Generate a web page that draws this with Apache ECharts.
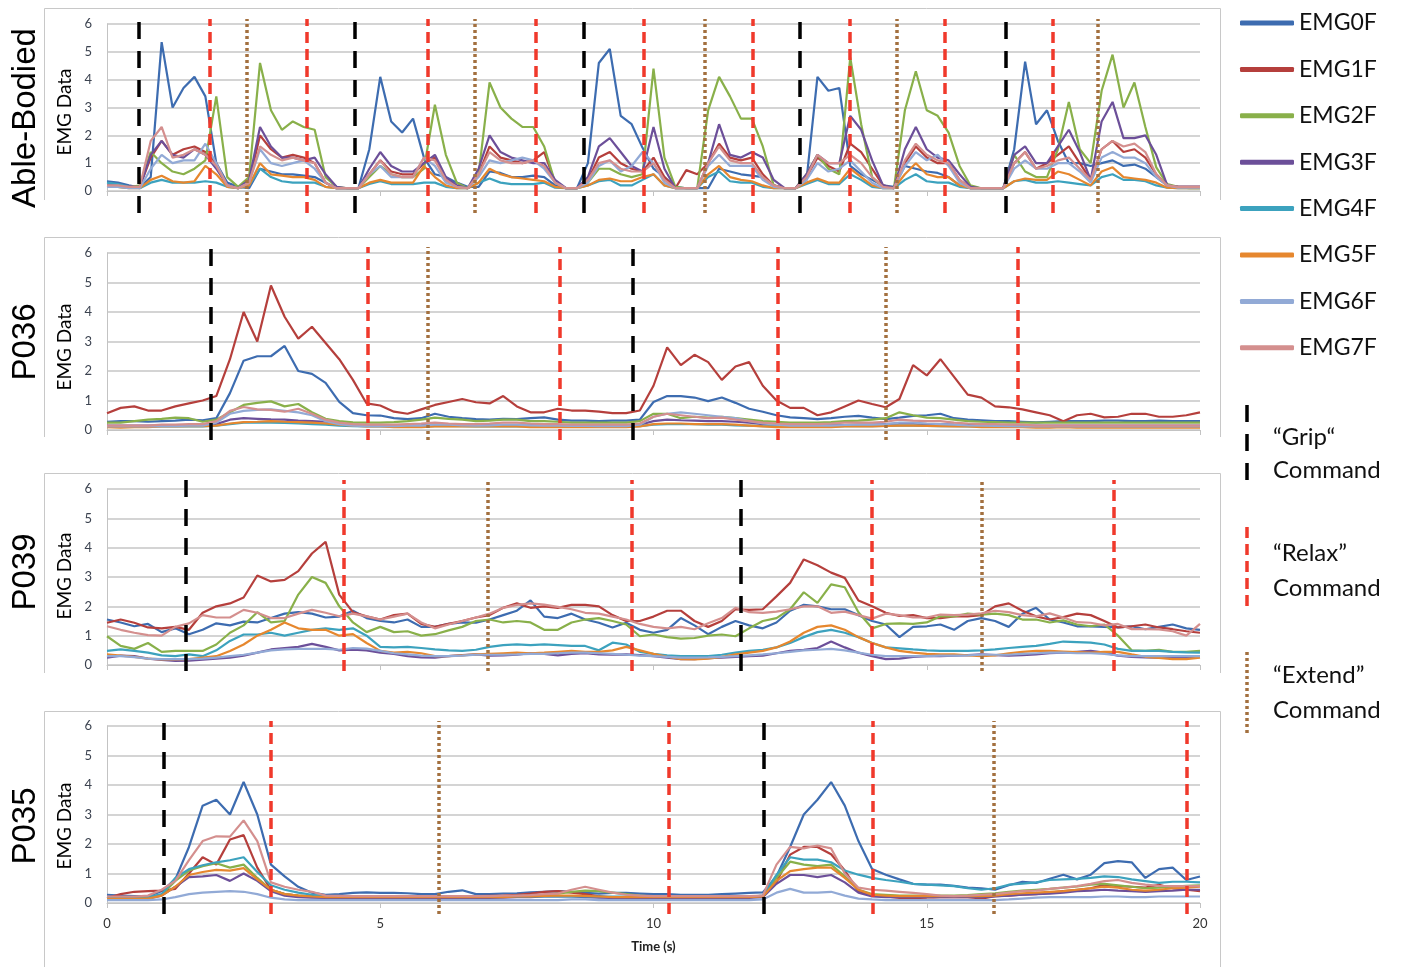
<!DOCTYPE html>
<html><head><meta charset="utf-8">
<script src="https://cdn.jsdelivr.net/npm/echarts@6/dist/echarts.min.js"></script>
<style>html,body{margin:0;padding:0;background:#fff}#c{width:1404px;height:967px}</style>
</head><body><div id="c"></div>
<script>
// ---------- DATA ----------
const NAMES = ['EMG0F','EMG1F','EMG2F','EMG3F','EMG4F','EMG5F','EMG6F','EMG7F'];
const X_TICK_LABELS = ['0','5','10','15','20'];

// Able-Bodied: samples every 0.2 s (101 points)
const ab0 = [0.35,0.3,0.2,0.12,0.5, 5.35,3.0,3.7,4.1,3.4, 1.0,0.3,0.15,0.1,0.8, 0.7,0.6,0.6,0.55,0.5, 0.3,0.1,0.1,0.1,1.5,
 4.1,2.5,2.1,2.6,1.2, 0.6,0.5,0.3,0.15,0.15, 0.7,0.65,0.5,0.5,0.55, 0.5,0.2,0.1,0.1,1.0, 4.6,5.1,2.7,2.4,1.55,
 0.8,0.5,0.15,0.1,0.1, 0.1,0.8,0.7,0.6,0.55, 0.5,0.2,0.1,0.1,0.4, 4.1,3.6,3.7,0.9,0.6, 0.4,0.2,0.15,0.9,0.8,
 0.7,0.65,0.5,0.2,0.1, 0.1,0.1,0.1,1.5,4.65, 2.4,2.9,1.8,1.0,1.0, 0.9,1.0,1.1,0.9,0.95, 0.8,0.5,0.2,0.15,0.15, 0.15];
const ab1 = [0.2,0.2,0.15,0.15,1.2, 1.8,1.3,1.5,1.6,1.4, 1.0,0.2,0.1,0.3,2.0, 1.5,1.2,1.3,1.2,1.0, 0.3,0.1,0.1,0.1,0.6,
 1.1,0.7,0.6,0.6,1.0, 1.2,0.4,0.15,0.1,0.6, 1.6,1.2,1.1,1.0,1.1, 1.4,0.3,0.1,0.1,0.4, 1.2,1.4,1.0,0.8,0.7,
 1.2,0.5,0.1,0.75,0.6, 1.0,1.7,1.2,1.1,1.2, 0.6,0.2,0.1,0.1,0.5, 1.2,0.9,0.7,1.7,1.4, 0.8,0.2,0.1,1.0,1.6,
 1.2,1.0,1.0,0.4,0.1, 0.1,0.1,0.1,1.0,1.4, 0.8,1.0,1.3,1.6,1.0, 0.4,1.5,1.8,1.4,1.5, 1.2,0.6,0.2,0.15,0.15, 0.15];
const ab2 = [0.2,0.15,0.12,0.2,1.4, 1.0,0.7,0.6,0.8,1.1, 3.4,0.5,0.15,0.5,4.6, 2.9,2.2,2.5,2.3,2.2, 0.5,0.15,0.1,0.1,0.5,
 0.9,0.6,0.5,0.5,0.8, 3.1,1.3,0.3,0.1,0.6, 3.9,3.0,2.6,2.3,2.3, 1.6,0.3,0.1,0.1,0.3, 0.8,0.8,0.6,0.5,0.6,
 4.4,1.2,0.15,0.1,0.1, 2.9,4.1,3.4,2.6,2.6, 1.6,0.2,0.1,0.1,0.6, 1.3,0.8,0.6,4.8,2.4, 0.5,0.15,0.1,2.9,4.3,
 2.9,2.7,2.1,0.9,0.2, 0.1,0.1,0.1,1.3,0.7, 0.5,0.5,1.5,3.2,1.5, 1.0,3.6,4.9,3.0,3.9, 2.3,0.85,0.25,0.15,0.1, 0.1];
const ab3 = [0.2,0.2,0.15,0.15,1.3, 1.8,1.3,1.2,1.5,1.3, 0.8,0.2,0.1,0.4,2.3, 1.6,1.2,1.2,1.1,1.2, 0.6,0.15,0.1,0.1,0.8,
 1.4,0.9,0.7,0.7,1.0, 1.3,0.5,0.2,0.1,0.8, 2.0,1.4,1.2,1.1,1.0, 1.0,0.4,0.1,0.1,0.5, 1.6,1.9,1.4,0.9,0.7,
 2.3,0.8,0.1,0.1,0.1, 1.0,2.4,1.3,1.2,1.4, 1.2,0.4,0.1,0.1,0.6, 1.3,1.0,1.0,2.7,2.2, 1.1,0.2,0.1,1.5,2.3,
 1.5,1.2,1.1,0.6,0.15, 0.1,0.1,0.1,1.3,1.6, 1.0,1.0,1.6,2.2,1.4, 0.4,2.5,3.2,1.9,1.9, 2.0,1.3,0.2,0.15,0.15, 0.15];
const ab4 = [0.3,0.25,0.15,0.1,0.3, 0.4,0.3,0.3,0.3,0.35, 0.3,0.15,0.1,0.2,0.8, 0.5,0.35,0.3,0.3,0.3, 0.15,0.1,0.1,0.1,0.25,
 0.35,0.25,0.25,0.25,0.3, 0.3,0.15,0.1,0.1,0.3, 0.45,0.3,0.25,0.25,0.25, 0.3,0.12,0.1,0.1,0.2, 0.35,0.4,0.2,0.2,0.4,
 0.6,0.2,0.1,0.1,0.1, 0.5,0.7,0.35,0.3,0.3, 0.15,0.1,0.1,0.1,0.25, 0.4,0.25,0.25,0.6,0.4, 0.15,0.1,0.1,0.4,0.6,
 0.35,0.3,0.3,0.15,0.1, 0.1,0.1,0.1,0.35,0.4, 0.3,0.3,0.35,0.3,0.25, 0.2,0.5,0.6,0.4,0.4, 0.35,0.2,0.12,0.1,0.1, 0.1];
const ab5 = [0.15,0.15,0.1,0.1,0.4, 0.55,0.35,0.3,0.35,0.9, 0.6,0.15,0.1,0.2,1.0, 0.6,0.55,0.5,0.5,0.4, 0.15,0.1,0.1,0.1,0.3,
 0.4,0.3,0.3,0.3,0.9, 0.5,0.2,0.1,0.1,0.3, 0.8,0.6,0.5,0.45,0.4, 0.35,0.15,0.1,0.1,0.2, 0.4,0.45,0.35,0.35,0.5,
 0.6,0.2,0.1,0.1,0.1, 0.6,0.9,0.5,0.4,0.35, 0.2,0.1,0.1,0.1,0.3, 0.45,0.3,0.3,0.8,0.5, 0.2,0.1,0.1,0.6,1.0,
 0.6,0.5,0.5,0.2,0.1, 0.1,0.1,0.1,0.35,0.45, 0.4,0.4,0.7,0.6,0.4, 0.2,0.7,0.85,0.5,0.45, 0.4,0.3,0.12,0.1,0.1, 0.1];
const ab6 = [0.15,0.15,0.1,0.1,0.8, 1.3,1.0,1.1,1.1,1.7, 1.0,0.2,0.1,0.3,1.5, 1.0,0.9,1.0,1.1,0.8, 0.3,0.1,0.1,0.1,0.6,
 0.9,0.5,0.5,0.5,1.2, 0.9,0.3,0.15,0.1,0.5, 1.1,1.0,1.1,1.2,1.1, 0.8,0.3,0.1,0.1,0.3, 0.9,1.1,0.7,0.9,1.4,
 1.0,0.3,0.1,0.1,0.1, 0.9,1.3,0.9,0.9,0.9, 0.4,0.15,0.1,0.1,0.4, 1.0,0.7,0.8,1.1,0.7, 0.3,0.1,0.1,0.9,1.4,
 1.1,1.3,0.9,0.3,0.1, 0.1,0.1,0.1,0.8,1.1, 0.8,0.8,1.0,1.0,0.7, 0.3,1.2,1.4,1.2,1.2, 1.0,0.5,0.2,0.12,0.12, 0.12];
const ab7 = [0.2,0.2,0.15,0.15,1.8, 2.3,1.2,1.3,1.5,1.3, 0.9,0.2,0.1,0.3,1.6, 1.3,1.1,1.2,1.1,1.0, 0.3,0.1,0.1,0.1,0.6,
 1.1,0.6,0.5,0.5,1.2, 1.1,0.4,0.15,0.1,0.6, 1.4,1.1,1.0,1.0,1.1, 0.9,0.3,0.1,0.1,0.4, 1.0,1.1,0.8,0.7,0.7,
 1.0,0.4,0.1,0.1,0.1, 1.0,1.6,1.1,1.0,1.0, 0.5,0.2,0.1,0.1,0.5, 1.3,1.0,1.0,1.3,1.0, 0.5,0.15,0.1,1.1,1.7,
 1.3,1.1,1.0,0.4,0.1, 0.1,0.1,0.1,1.0,1.4, 0.8,0.9,1.1,1.2,0.8, 0.4,1.5,1.8,1.6,1.7, 1.4,0.6,0.2,0.15,0.15, 0.15];

// P036: samples every 0.25 s (81 points)
const p36_0 = [0.28,0.3,0.3,0.28, 0.3,0.32,0.35,0.33, 0.4,1.25,2.35,2.5, 2.5,2.85,2.0,1.9, 1.6,0.95,0.57,0.5,
 0.49,0.4,0.37,0.4, 0.55,0.45,0.4,0.37, 0.35,0.38,0.37,0.4, 0.43,0.35,0.32,0.32, 0.3,0.32,0.32,0.35,
 0.95,1.15,1.15,1.1, 0.98,1.1,0.92,0.72, 0.62,0.5,0.43,0.4, 0.37,0.4,0.45,0.48, 0.42,0.37,0.42,0.48,
 0.5,0.55,0.4,0.35, 0.33,0.3,0.3,0.28, 0.26,0.28,0.3,0.3, 0.3,0.32,0.32,0.3, 0.3,0.32,0.3,0.3, 0.3];
const p36_1 = [0.57,0.75,0.8,0.66, 0.66,0.8,0.9,1.0, 1.15,2.4,4.0,3.0, 4.9,3.84,3.1,3.5, 2.95,2.4,1.7,0.9,
 0.83,0.62,0.55,0.7, 0.85,0.95,1.05,0.94, 0.9,1.15,0.8,0.6, 0.6,0.72,0.66,0.66, 0.62,0.57,0.57,0.66,
 1.5,2.8,2.2,2.55, 2.3,1.7,2.15,2.3, 1.5,1.0,0.75,0.75, 0.5,0.6,0.8,1.0, 0.88,0.77,1.05,2.2,
 1.85,2.4,1.8,1.2, 1.1,0.8,0.77,0.7, 0.6,0.5,0.3,0.5, 0.55,0.43,0.45,0.55, 0.55,0.45,0.45,0.5, 0.6];
const p36_2 = [0.25,0.25,0.3,0.35, 0.38,0.42,0.4,0.28, 0.35,0.6,0.85,0.92, 0.97,0.8,0.88,0.6, 0.38,0.3,0.26,0.25,
 0.25,0.27,0.3,0.35, 0.42,0.38,0.35,0.3, 0.32,0.35,0.35,0.3, 0.3,0.28,0.25,0.25, 0.25,0.25,0.25,0.3,
 0.55,0.55,0.4,0.45, 0.42,0.45,0.4,0.35, 0.3,0.28,0.25,0.25, 0.25,0.27,0.3,0.32, 0.35,0.4,0.6,0.5,
 0.42,0.4,0.35,0.3, 0.28,0.27,0.25,0.25, 0.25,0.25,0.25,0.25, 0.25,0.25,0.25,0.25, 0.25,0.25,0.25,0.25, 0.25];
const p36_3 = [0.15,0.15,0.15,0.15, 0.15,0.15,0.17,0.17, 0.2,0.35,0.4,0.38, 0.36,0.35,0.32,0.3, 0.28,0.22,0.18,0.16,
 0.15,0.15,0.15,0.16, 0.18,0.18,0.17,0.16, 0.16,0.17,0.17,0.16, 0.15,0.15,0.15,0.15, 0.15,0.15,0.15,0.18,
 0.3,0.35,0.33,0.32, 0.3,0.3,0.28,0.25, 0.2,0.18,0.16,0.15, 0.15,0.16,0.17,0.18, 0.18,0.2,0.22,0.22,
 0.2,0.2,0.18,0.17, 0.16,0.15,0.15,0.15, 0.15,0.15,0.15,0.15, 0.15,0.15,0.15,0.15, 0.15,0.15,0.15,0.15, 0.15];
const p36_4 = [0.12,0.12,0.12,0.12, 0.12,0.12,0.12,0.12, 0.15,0.2,0.25,0.25, 0.25,0.24,0.22,0.2, 0.18,0.15,0.13,0.12,
 0.12,0.12,0.12,0.12, 0.13,0.13,0.13,0.12, 0.12,0.12,0.12,0.12, 0.12,0.12,0.12,0.12, 0.12,0.12,0.12,0.13,
 0.18,0.2,0.2,0.2, 0.18,0.18,0.16,0.15, 0.13,0.12,0.12,0.12, 0.12,0.12,0.13,0.13, 0.13,0.14,0.15,0.15,
 0.14,0.13,0.13,0.12, 0.12,0.12,0.12,0.12, 0.12,0.12,0.12,0.12, 0.12,0.12,0.12,0.12, 0.12,0.12,0.12,0.12, 0.12];
const p36_5 = [0.1,0.08,0.1,0.1, 0.12,0.12,0.13,0.13, 0.15,0.22,0.27,0.28, 0.3,0.28,0.27,0.25, 0.22,0.18,0.15,0.12,
 0.12,0.1,0.1,0.1, 0.12,0.12,0.12,0.12, 0.12,0.12,0.12,0.1, 0.1,0.1,0.1,0.1, 0.1,0.1,0.1,0.12,
 0.2,0.22,0.22,0.2, 0.2,0.2,0.18,0.15, 0.12,0.1,0.1,0.1, 0.1,0.1,0.12,0.12, 0.12,0.14,0.15,0.15,
 0.14,0.13,0.12,0.12, 0.1,0.1,0.1,0.1, 0.08,0.08,0.1,0.08, 0.08,0.08,0.08,0.08, 0.08,0.08,0.08,0.08, 0.08];
const p36_6 = [0.12,0.12,0.12,0.12, 0.13,0.13,0.15,0.15, 0.25,0.55,0.65,0.68, 0.7,0.65,0.6,0.5, 0.3,0.2,0.15,0.13,
 0.13,0.13,0.15,0.15, 0.18,0.18,0.16,0.15, 0.16,0.18,0.18,0.16, 0.15,0.15,0.14,0.14, 0.13,0.13,0.13,0.18,
 0.45,0.55,0.6,0.55, 0.5,0.45,0.4,0.3, 0.22,0.18,0.15,0.15, 0.15,0.15,0.17,0.18, 0.18,0.2,0.25,0.25,
 0.22,0.2,0.18,0.16, 0.15,0.14,0.13,0.12, 0.12,0.12,0.12,0.12, 0.12,0.12,0.12,0.12, 0.12,0.12,0.12,0.12, 0.12];
const p36_7 = [0.15,0.15,0.15,0.15, 0.18,0.18,0.2,0.2, 0.3,0.65,0.78,0.7, 0.68,0.62,0.72,0.55, 0.35,0.25,0.2,0.18,
 0.18,0.18,0.2,0.22, 0.25,0.22,0.2,0.2, 0.22,0.25,0.25,0.22, 0.2,0.2,0.18,0.18, 0.18,0.18,0.18,0.22,
 0.45,0.55,0.5,0.45, 0.4,0.42,0.35,0.3, 0.25,0.22,0.2,0.2, 0.2,0.22,0.25,0.25, 0.25,0.28,0.35,0.32,
 0.3,0.3,0.25,0.22, 0.2,0.2,0.18,0.18, 0.15,0.15,0.15,0.15, 0.15,0.15,0.15,0.15, 0.15,0.15,0.15,0.15, 0.15];

// P039: samples every 0.25 s (81 points)
const p39_0 = [1.55,1.45,1.32,1.4, 1.12,1.25,1.05,1.2, 1.42,1.35,1.48,1.45, 1.6,1.75,1.8,1.75, 1.62,1.65,1.85,1.6,
 1.5,1.45,1.55,1.3, 1.3,1.4,1.45,1.44, 1.55,1.7,1.85,2.2, 1.65,1.6,1.75,1.55, 1.44,1.28,1.44,1.2,
 1.1,1.2,1.6,1.35, 1.05,1.3,1.5,1.35, 1.25,1.45,1.85,2.05, 2.0,1.9,1.9,1.7, 1.5,1.38,0.95,1.3,
 1.32,1.38,1.2,1.5, 1.6,1.5,1.3,1.75, 1.95,1.55,1.45,1.32, 1.32,1.3,1.28,1.32, 1.22,1.3,1.38,1.25, 1.2];
const p39_1 = [1.44,1.55,1.44,1.28, 1.25,1.3,1.2,1.78, 2.0,2.1,2.3,3.05, 2.85,2.9,3.2,3.8, 4.2,2.4,1.8,1.66,
 1.55,1.7,1.75,1.4, 1.3,1.4,1.5,1.62, 1.7,1.95,2.1,1.95, 2.0,1.95,2.05,2.05, 2.0,1.7,1.5,1.5,
 1.65,1.85,1.85,1.5, 1.3,1.5,1.9,1.88, 1.9,2.34,2.8,3.6, 3.4,3.15,2.97,2.2, 2.0,1.78,1.67,1.7,
 1.6,1.6,1.66,1.66, 1.7,2.0,2.1,1.85, 1.66,1.55,1.63,1.75, 1.7,1.5,1.28,1.32, 1.38,1.28,1.22,1.15, 1.1];
const p39_2 = [0.98,0.65,0.55,0.75, 0.45,0.48,0.48,0.48, 0.7,1.1,1.35,1.8, 1.45,1.5,2.4,3.0, 2.8,2.0,1.45,1.12,
 1.3,1.12,1.15,1.0, 1.05,1.18,1.3,1.5, 1.55,1.45,1.5,1.45, 1.2,1.2,1.45,1.55, 1.6,1.5,1.38,0.98,
 1.04,0.95,0.9,0.92, 1.0,1.04,0.98,1.25, 1.5,1.6,1.9,2.48, 2.12,2.75,2.65,1.8, 1.25,1.4,1.42,1.4,
 1.45,1.66,1.66,1.75, 1.72,1.75,1.7,1.55, 1.55,1.45,1.52,1.38, 1.32,1.38,1.0,0.5, 0.48,0.52,0.45,0.45, 0.48];
const p39_3 = [0.25,0.32,0.3,0.22, 0.17,0.14,0.15,0.18, 0.22,0.25,0.32,0.42, 0.53,0.58,0.62,0.72, 0.62,0.5,0.52,0.5,
 0.42,0.38,0.3,0.26, 0.25,0.3,0.34,0.36, 0.32,0.33,0.35,0.4, 0.38,0.33,0.38,0.4, 0.36,0.35,0.36,0.34,
 0.3,0.25,0.2,0.2, 0.23,0.25,0.28,0.3, 0.32,0.4,0.48,0.52, 0.58,0.8,0.6,0.42, 0.3,0.2,0.22,0.28,
 0.3,0.3,0.32,0.34, 0.36,0.34,0.32,0.34, 0.36,0.4,0.42,0.45, 0.48,0.42,0.32,0.28, 0.26,0.25,0.27,0.28, 0.28];
const p39_4 = [0.48,0.53,0.48,0.42, 0.33,0.3,0.36,0.3, 0.5,0.82,1.04,1.04, 1.1,1.0,1.1,1.2, 1.25,1.2,1.25,1.0,
 0.62,0.6,0.62,0.58, 0.53,0.5,0.48,0.52, 0.62,0.68,0.7,0.68, 0.7,0.68,0.65,0.65, 0.5,0.76,0.7,0.45,
 0.38,0.33,0.3,0.3, 0.3,0.35,0.42,0.48, 0.52,0.6,0.75,0.95, 1.12,1.2,1.1,0.95, 0.75,0.6,0.57,0.53,
 0.5,0.48,0.48,0.48, 0.5,0.53,0.58,0.62, 0.65,0.72,0.8,0.78, 0.76,0.7,0.55,0.48, 0.48,0.48,0.45,0.43, 0.42];
const p39_5 = [0.36,0.32,0.28,0.22, 0.19,0.19,0.2,0.25, 0.3,0.48,0.7,1.0, 1.2,1.45,1.25,1.2, 1.2,1.0,1.05,0.75,
 0.48,0.42,0.45,0.4, 0.3,0.3,0.33,0.36, 0.38,0.4,0.42,0.4, 0.42,0.45,0.48,0.45, 0.45,0.5,0.62,0.5,
 0.38,0.28,0.2,0.19, 0.22,0.28,0.36,0.42, 0.48,0.6,0.8,1.1, 1.3,1.35,1.2,0.95, 0.75,0.6,0.48,0.42,
 0.38,0.36,0.36,0.33, 0.3,0.33,0.4,0.45, 0.48,0.48,0.46,0.44, 0.42,0.45,0.45,0.36, 0.28,0.24,0.2,0.2, 0.25];
const p39_6 = [0.3,0.3,0.27,0.22, 0.2,0.2,0.2,0.22, 0.25,0.3,0.35,0.42, 0.5,0.53,0.55,0.55, 0.55,0.52,0.58,0.56,
 0.48,0.4,0.36,0.32, 0.3,0.3,0.32,0.35, 0.35,0.35,0.36,0.38, 0.38,0.4,0.42,0.42, 0.4,0.38,0.35,0.32,
 0.3,0.28,0.25,0.25, 0.26,0.28,0.3,0.33, 0.36,0.4,0.45,0.5, 0.52,0.55,0.5,0.42, 0.35,0.3,0.3,0.3,
 0.3,0.32,0.32,0.33, 0.35,0.35,0.35,0.38, 0.4,0.42,0.42,0.4, 0.4,0.38,0.33,0.3, 0.3,0.3,0.3,0.3, 0.3];
const p39_7 = [1.32,1.2,1.1,1.02, 1.0,1.3,1.42,1.7, 1.62,1.62,1.88,1.78, 1.6,1.6,1.75,1.88, 1.78,1.66,1.75,1.66,
 1.55,1.65,1.75,1.45, 1.25,1.38,1.5,1.62, 1.75,1.95,2.05,2.1, 2.06,1.98,1.9,1.78, 1.75,1.65,1.55,1.4,
 1.3,1.25,1.3,1.22, 1.42,1.6,1.95,1.8, 1.78,1.82,1.9,2.0, 2.0,1.78,1.82,1.7, 1.58,1.75,1.7,1.62,
 1.62,1.72,1.7,1.72, 1.76,1.85,1.8,1.7, 1.66,1.76,1.62,1.46, 1.44,1.35,1.4,1.22, 1.22,1.21,1.15,1.0, 1.4];

// P035: samples every 0.25 s (81 points)
const p35_0 = [0.28,0.25,0.23,0.23, 0.4,0.8,1.9,3.3, 3.5,3.0,4.1,3.0, 1.3,0.9,0.55,0.35, 0.28,0.3,0.34,0.36,
 0.34,0.34,0.33,0.3, 0.3,0.38,0.43,0.3, 0.3,0.32,0.33,0.36, 0.38,0.4,0.38,0.34, 0.32,0.34,0.34,0.32,
 0.3,0.3,0.28,0.28, 0.28,0.3,0.32,0.34, 0.36,0.9,1.9,3.0, 3.5,4.1,3.3,2.1, 1.15,0.96,0.8,0.65,
 0.62,0.62,0.58,0.52, 0.5,0.45,0.6,0.72, 0.68,0.82,0.96,0.8, 0.96,1.35,1.42,1.38, 0.85,1.15,1.2,0.78, 0.9];
const p35_1 = [0.17,0.3,0.38,0.4, 0.42,0.48,1.0,1.55, 1.3,2.15,2.3,1.2, 0.45,0.3,0.25,0.23, 0.23,0.23,0.2,0.2,
 0.2,0.18,0.17,0.18, 0.2,0.22,0.22,0.23, 0.24,0.25,0.28,0.32, 0.38,0.4,0.35,0.3, 0.23,0.18,0.17,0.17,
 0.17,0.17,0.15,0.13, 0.12,0.12,0.15,0.2, 0.25,0.7,1.64,1.9, 1.9,1.65,1.1,0.4, 0.28,0.22,0.17,0.14,
 0.12,0.11,0.11,0.11, 0.15,0.23,0.25,0.28, 0.3,0.35,0.4,0.45, 0.5,0.62,0.57,0.55, 0.52,0.62,0.5,0.45, 0.4];
const p35_2 = [0.15,0.15,0.15,0.15, 0.28,0.75,1.1,1.25, 1.35,1.2,1.3,0.85, 0.45,0.3,0.25,0.22, 0.2,0.2,0.2,0.2,
 0.2,0.2,0.2,0.2, 0.2,0.2,0.2,0.22, 0.22,0.22,0.24,0.25, 0.28,0.32,0.38,0.42, 0.4,0.35,0.3,0.25,
 0.22,0.2,0.2,0.2, 0.2,0.2,0.2,0.2, 0.22,0.85,1.4,1.3, 1.25,1.3,0.9,0.45, 0.3,0.28,0.25,0.25,
 0.25,0.25,0.25,0.27, 0.3,0.33,0.38,0.42, 0.45,0.48,0.52,0.56, 0.62,0.65,0.6,0.55, 0.5,0.52,0.55,0.58, 0.6];
const p35_3 = [0.15,0.15,0.15,0.15, 0.25,0.55,0.88,0.9, 0.95,0.75,1.0,0.75, 0.4,0.25,0.2,0.18, 0.17,0.17,0.17,0.17,
 0.17,0.17,0.17,0.17, 0.17,0.17,0.17,0.17, 0.17,0.18,0.2,0.2, 0.22,0.22,0.22,0.2, 0.18,0.17,0.17,0.17,
 0.17,0.17,0.17,0.17, 0.17,0.17,0.17,0.17, 0.2,0.65,0.95,0.95, 0.88,0.95,0.7,0.35, 0.22,0.2,0.2,0.2,
 0.2,0.2,0.2,0.2, 0.2,0.22,0.25,0.28, 0.3,0.32,0.35,0.4, 0.42,0.45,0.42,0.4, 0.38,0.4,0.42,0.45, 0.45];
const p35_4 = [0.2,0.2,0.2,0.2, 0.3,0.85,1.15,1.28, 1.38,1.45,1.55,1.05, 0.6,0.45,0.35,0.28, 0.23,0.22,0.22,0.22,
 0.22,0.22,0.22,0.22, 0.22,0.22,0.22,0.22, 0.22,0.22,0.22,0.22, 0.22,0.22,0.22,0.22, 0.22,0.22,0.22,0.22,
 0.22,0.22,0.22,0.22, 0.22,0.22,0.22,0.22, 0.25,0.95,1.55,1.47, 1.47,1.38,1.1,0.96, 0.85,0.78,0.72,0.65,
 0.62,0.6,0.57,0.5, 0.45,0.5,0.62,0.66, 0.7,0.78,0.8,0.82, 0.85,0.9,0.88,0.8, 0.74,0.68,0.72,0.72, 0.7];
const p35_5 = [0.15,0.15,0.15,0.15, 0.25,0.55,0.95,1.05, 1.12,1.1,1.18,0.8, 0.45,0.3,0.25,0.22, 0.2,0.2,0.2,0.2,
 0.2,0.2,0.2,0.2, 0.2,0.2,0.2,0.2, 0.2,0.2,0.22,0.22, 0.24,0.25,0.25,0.24, 0.22,0.2,0.2,0.2,
 0.2,0.2,0.2,0.2, 0.2,0.2,0.2,0.2, 0.22,0.75,1.08,1.15, 1.2,1.2,0.85,0.45, 0.28,0.25,0.23,0.23,
 0.23,0.23,0.23,0.23, 0.23,0.25,0.3,0.33, 0.35,0.38,0.4,0.45, 0.5,0.55,0.52,0.45, 0.42,0.45,0.5,0.52, 0.55];
const p35_6 = [0.1,0.1,0.1,0.1, 0.12,0.2,0.3,0.35, 0.38,0.4,0.38,0.3, 0.18,0.12,0.1,0.1, 0.1,0.1,0.1,0.1,
 0.1,0.1,0.1,0.1, 0.1,0.1,0.1,0.1, 0.1,0.1,0.1,0.1, 0.1,0.1,0.12,0.12, 0.1,0.1,0.1,0.1,
 0.1,0.1,0.1,0.1, 0.1,0.1,0.1,0.1, 0.12,0.35,0.48,0.35, 0.35,0.38,0.25,0.15, 0.12,0.1,0.1,0.1,
 0.1,0.1,0.1,0.1, 0.1,0.1,0.12,0.15, 0.18,0.2,0.2,0.2, 0.2,0.22,0.22,0.2, 0.2,0.22,0.22,0.22, 0.22];
const p35_7 = [0.22,0.22,0.22,0.25, 0.45,0.75,1.45,2.1, 2.26,2.25,2.8,2.1, 0.7,0.55,0.45,0.38, 0.25,0.24,0.23,0.23,
 0.23,0.23,0.23,0.23, 0.23,0.23,0.23,0.23, 0.23,0.25,0.25,0.27, 0.3,0.32,0.45,0.55, 0.45,0.35,0.28,0.25,
 0.23,0.23,0.23,0.23, 0.23,0.23,0.23,0.23, 0.25,1.3,1.9,1.85, 1.95,1.85,1.0,0.52, 0.45,0.42,0.38,0.34,
 0.3,0.25,0.23,0.25, 0.28,0.3,0.35,0.4, 0.42,0.48,0.52,0.57, 0.65,0.74,0.78,0.68, 0.62,0.58,0.57,0.57, 0.57];

// Command times (s)
const AB_GRIP = [0.59, 4.54, 8.73, 12.68, 16.45];
const AB_RELAX = [1.88, 3.66, 5.87, 7.85, 9.83, 11.82, 13.6, 15.33, 17.31];
const AB_EXTEND = [2.56, 6.73, 10.94, 14.46, 18.12];
const P036_GRIP = [1.89, 9.62];
const P036_RELAX = [4.77, 8.29, 12.27, 16.66];
const P036_EXTEND = [5.87, 14.25];
const P039_GRIP = [1.45, 11.6];
const P039_RELAX = [4.33, 9.61, 14.0, 18.43];
const P039_EXTEND = [6.97, 16.0];
const P035_GRIP = [1.03, 12.02];
const P035_RELAX = [3.0, 10.28, 14.01, 19.75];
const P035_EXTEND = [6.07, 16.23];

// ---------- STYLE / LAYOUT ----------
const COLORS = ['#3d6cb0','#b53f3c','#89b04a','#6c4f99','#3ca2be','#e6872e','#92aad6','#d48f8e'];
function sampleTimes(step, n){ const a=[]; for(let i=0;i<n;i++) a.push(Math.round(i*step*100)/100); return a; }
const TIME_AB = sampleTimes(0.2, 101);
const TIME_PT = sampleTimes(0.25, 81);

const PANELS = [
  {title:'Able-Bodied', titleY:118, labelY:112, top:24, h:167, mTop:19, mH:194, frame:[8,200], time:TIME_AB,
   data:[ab0,ab1,ab2,ab3,ab4,ab5,ab6,ab7], grip:AB_GRIP, relax:AB_RELAX, extend:AB_EXTEND},
  {title:'P036', titleY:342, labelY:347, top:253, h:177, mTop:247, mH:193, frame:[237,437], time:TIME_PT,
   data:[p36_0,p36_1,p36_2,p36_3,p36_4,p36_5,p36_6,p36_7], grip:P036_GRIP, relax:P036_RELAX, extend:P036_EXTEND},
  {title:'P039', titleY:572, labelY:576, top:489, h:176, mTop:480, mH:191, frame:[473,673], time:TIME_PT,
   data:[p39_0,p39_1,p39_2,p39_3,p39_4,p39_5,p39_6,p39_7], grip:P039_GRIP, relax:P039_RELAX, extend:P039_EXTEND},
  {title:'P035', titleY:826, labelY:826, top:726, h:177, mTop:721, mH:193, frame:[711,967], time:TIME_PT,
   data:[p35_0,p35_1,p35_2,p35_3,p35_4,p35_5,p35_6,p35_7], grip:P035_GRIP, relax:P035_RELAX, extend:P035_EXTEND}
];
const CMD = [
  {key:'grip', color:'#000000', dash:[17,12], label:['\u201cGrip\u201c','Command'], ly:[405,485], ty:[437,470]},
  {key:'relax', color:'#f0392b', dash:[11,6], label:['\u201cRelax\u201d','Command'], ly:[527,610], ty:[553,588]},
  {key:'extend', color:'#a3703f', dash:[3,3], label:['\u201cExtend\u201d','Command'], ly:[652,733], ty:[675,710]}
];

const grids=[], xAxes=[], yAxes=[], series=[], graphics=[];
const GRAY='#c3c3c3';
PANELS.forEach((p,k)=>{
  const gi=2*k, oi=2*k+1, last=(k===PANELS.length-1);
  grids.push({left:107, width:1093, top:p.top, height:p.h});
  grids.push({left:107, width:1093, top:p.mTop, height:p.mH});
  xAxes.push({gridIndex:gi, type:'value', min:0, max:20, interval:5,
    axisLine:{lineStyle:{color:GRAY, width:1}}, axisTick:{show:true, length:5, lineStyle:{color:GRAY}},
    axisLabel:{show:last, fontSize:13, fontFamily:'Lato', color:'#333', margin:14,
      formatter:(v)=>X_TICK_LABELS[Math.round(v/5)]},
    splitLine:{show:false},
    name:last?'Time (s)':'', nameLocation:'middle', nameGap:37,
    nameTextStyle:{fontSize:13, fontWeight:'bold', fontFamily:'Lato', color:'#222'}});
  xAxes.push({gridIndex:oi, type:'value', min:0, max:20, show:false});
  yAxes.push({gridIndex:gi, type:'value', min:0, max:6, interval:1,
    axisLine:{show:true, lineStyle:{color:GRAY, width:1}}, axisTick:{show:false},
    axisLabel:{fontSize:13, fontFamily:'Lato', color:'#3c4350', margin:15},
    splitLine:{show:true, lineStyle:{color:'#c6c6c6', width:1.5}}});
  yAxes.push({gridIndex:oi, type:'value', min:0, max:1, show:false});
  p.data.forEach((arr,j)=>{
    series.push({type:'line', name:NAMES[j], xAxisIndex:gi, yAxisIndex:gi,
      data:arr.map((v,i)=>[p.time[i], v]), symbol:'none', showSymbol:false,
      lineStyle:{width:2.2, color:COLORS[j]}, itemStyle:{color:COLORS[j]}, z:3, silent:true});
  });
  CMD.forEach(c=>{
    series.push({type:'line', name:c.key+'-command', xAxisIndex:oi, yAxisIndex:oi, data:[], z:5, silent:true,
      markLine:{symbol:['none','none'], silent:true, animation:false, label:{show:false},
        lineStyle:{color:c.color, width:3.5, type:c.dash, opacity:1},
        emphasis:{disabled:true},
        data:p[c.key].map(t=>({xAxis:t}))}});
  });
  graphics.push({type:'polyline', silent:true, shape:{points:[[44.5,p.frame[1]],[44.5,p.frame[0]+0.5],[1220.5,p.frame[0]+0.5],[1220.5,p.frame[1]]]},
    style:{stroke:'#c8c8c8', fill:null, lineWidth:1}});
  graphics.push({type:'text', x:26, y:p.titleY, rotation:Math.PI/2, silent:true,
    style:{text:p.title, fontSize:33, fontFamily:'Liberation Sans', fill:'#000', align:'center', verticalAlign:'middle', textAlign:'center', textVerticalAlign:'middle'}});
  graphics.push({type:'text', x:65, y:p.labelY, rotation:Math.PI/2, silent:true,
    style:{text:'EMG Data', fontSize:19, fontFamily:'Lato', fill:'#000', align:'center', verticalAlign:'middle', textAlign:'center', textVerticalAlign:'middle'}});
});
CMD.forEach(c=>{
  graphics.push({type:'line', silent:true, shape:{x1:1247, y1:c.ly[0], x2:1247, y2:c.ly[1]},
    style:{stroke:c.color, lineWidth:3.5, lineDash:c.dash}});
  c.label.forEach((s,i)=>graphics.push({type:'text', x:1273, y:c.ty[i], silent:true,
    style:{text:s, fontSize:24, fontFamily:'Lato', fill:'#111', align:'left', verticalAlign:'middle', textAlign:'left', textVerticalAlign:'middle'}}));
});

const chart = echarts.init(document.getElementById('c'), null, {renderer:'canvas'});
chart.setOption({
  animation:false,
  backgroundColor:'#ffffff',
  legend:{orient:'vertical', left:1240, top:11.5, padding:0, itemWidth:54, itemHeight:5, itemGap:23.4, icon:'roundRect',
    selectedMode:false, data:NAMES,
    textStyle:{fontFamily:'Lato', fontSize:23, lineHeight:23, color:'#111'}},
  grid:grids, xAxis:xAxes, yAxis:yAxes, series:series, graphic:graphics
});
</script>
</body></html>
